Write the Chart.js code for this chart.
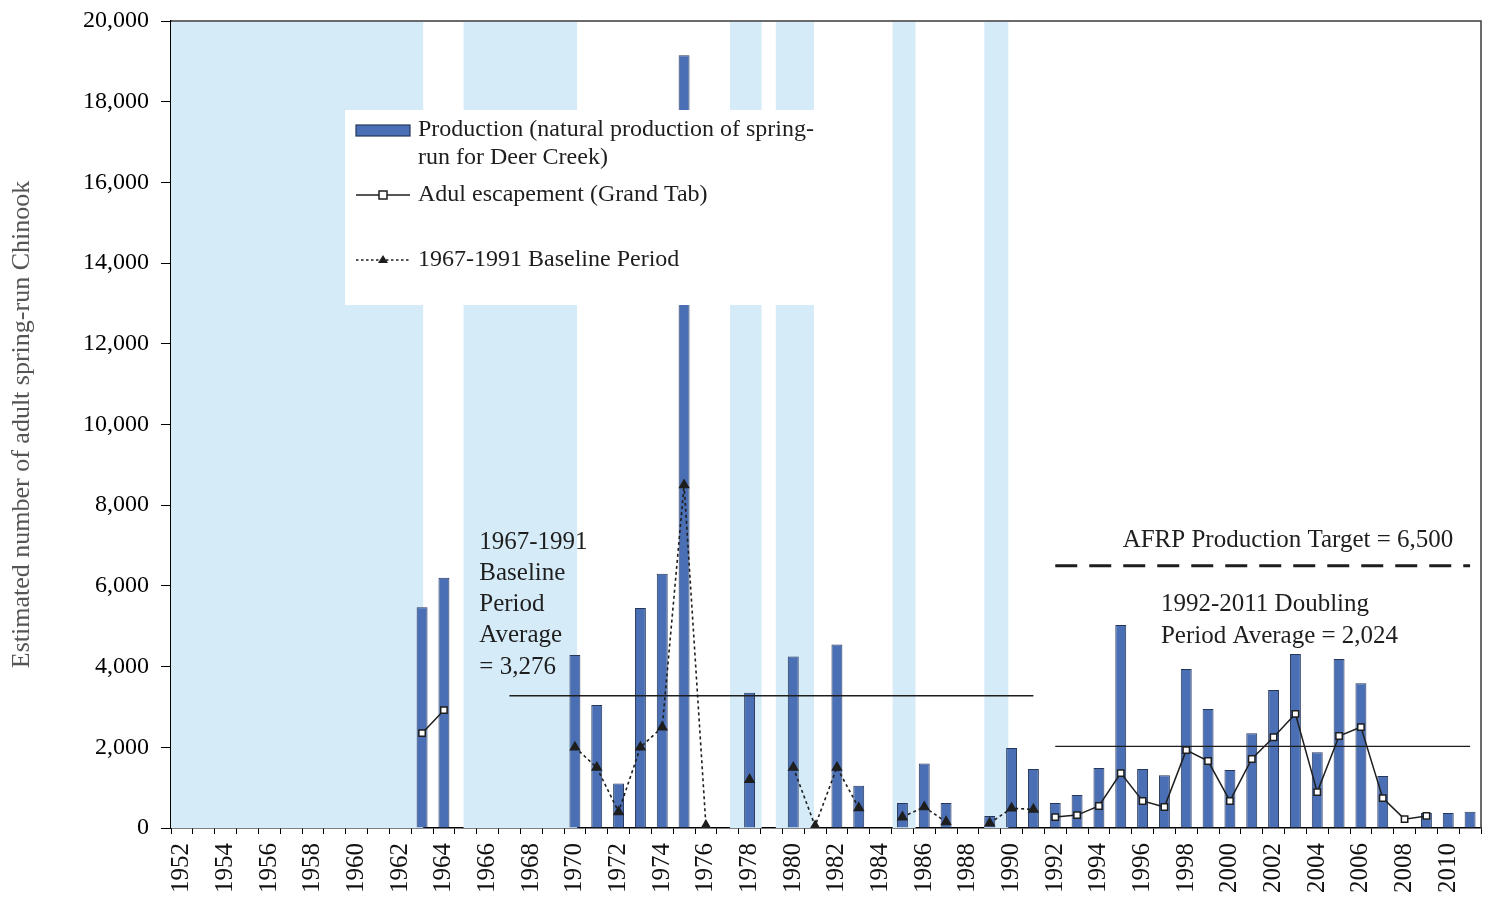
<!DOCTYPE html>
<html>
<head>
<meta charset="utf-8">
<script src="https://cdn.jsdelivr.net/npm/chart.js@4/dist/chart.umd.min.js"></script>
<style>
  html, body { margin: 0; padding: 0; background: #fff; }
  #wrap { width: 1494px; height: 898px; }
</style>
</head>
<body>
<div id="wrap"><canvas id="c" width="1494" height="898"></canvas></div>
<script>
// Return years of Deer Creek spring-run Chinook
const years = [
  '1952','1953','1954','1955','1956','1957','1958','1959','1960','1961',
  '1962','1963','1964','1965','1966','1967','1968','1969','1970','1971',
  '1972','1973','1974','1975','1976','1977','1978','1979','1980','1981',
  '1982','1983','1984','1985','1986','1987','1988','1989','1990','1991',
  '1992','1993','1994','1995','1996','1997','1998','1999','2000','2001',
  '2002','2003','2004','2005','2006','2007','2008','2009','2010','2011'
];

// Natural production of spring-run for Deer Creek
const production = [
  null, null, null, null, null, null, null, null, null, null,   // 1952-1961
  null, 5470, 6200, null, null, null, null, null, 4290, 3050,   // 1962-1971
  1100, 5450, 6300, 19150, null, null, 3350, null, 4250, null,  // 1972-1981
  4550, 1050, null, 620, 1600, 620, null, 300, 1980, 1460,      // 1982-1991
  620, 820, 1490, 5030, 1460, 1310, 3940, 2950, 1440, 2350,     // 1992-2001
  3420, 4310, 1880, 4190, 3590, 1290, null, 370, 370, 400       // 2002-2011
];

// Adult escapement (GrandTab)
const escapement = [
  null, null, null, null, null, null, null, null, null, null,   // 1952-1961
  null, 2350, 2920, null, null, null, null, null, null, null,   // 1962-1971
  null, null, null, null, null, null, null, null, null, null,   // 1972-1981
  null, null, null, null, null, null, null, null, null, null,   // 1982-1991
  270, 320, 545, 1360, 670, 520, 1930, 1660, 670, 1710,         // 1992-2001
  2250, 2830, 890, 2280, 2500, 740, 220, 300, null, null        // 2002-2011
];

// 1967-1991 baseline period
const baseline = [
  null, null, null, null, null, null, null, null, null, null,   // 1952-1961
  null, null, null, null, null, null, null, null, 2000, 1500,   // 1962-1971
  400, 2000, 2500, 8500, 60, null, 1200, null, 1500, 50,        // 1972-1981
  1500, 500, null, 270, 520, 150, null, 120, 490, 460,          // 1982-1991
  null, null, null, null, null, null, null, null, null, null,   // 1992-2001
  null, null, null, null, null, null, null, null, null, null    // 2002-2011
];

// Period averages and target
const baselinePeriod = [1967, 1991];
const baselineAverage = 3276;
const doublingPeriod = [1992, 2011];
const doublingAverage = 2024;
const productionTarget = 6500;

// Shaded year spans
const shadedSpans = [
  [1951.5, 1963.05], [1964.9, 1970.1], [1977.1, 1978.55],
  [1979.2, 1980.95], [1984.55, 1985.6], [1988.75, 1989.85]
];

// y-axis range
const yMin = 0, yMax = 20000, yStep = 2000;

const serif = '"Liberation Serif", "Times New Roman", serif';
const barFill = '#4a6fb4';
const barEdge = '#26375a';
const ink = '#1e1e1e';
const shade = '#d6ebf8';

function constantOver(period, value) {
  return years.map(y => (+y >= period[0] && +y <= period[1]) ? value : null);
}
const firstYear = +years[0];

// shaded spans behind the bars
const shadingPlugin = {
  id: 'shading',
  beforeDatasetsDraw(chart) {
    const { ctx, chartArea: a, scales: { x } } = chart;
    ctx.save();
    ctx.fillStyle = shade;
    shadedSpans.forEach(([s, e]) => {
      const x0 = Math.max(a.left, x.getPixelForValue(s - firstYear));
      const x1 = Math.min(a.right, x.getPixelForValue(e - firstYear));
      ctx.fillRect(x0, a.top + 1, x1 - x0, a.bottom - a.top - 1);
    });
    ctx.restore();
  }
};

// frame, text notes and key on top
const overlayPlugin = {
  id: 'overlay',
  afterDatasetsDraw(chart) {
    const { ctx, chartArea: a, scales: { x, y } } = chart;
    const px = yr => x.getPixelForValue(yr - firstYear);
    ctx.save();

    // top and right frame
    ctx.strokeStyle = '#3a3a3a';
    ctx.lineWidth = 1.5;
    ctx.beginPath();
    ctx.moveTo(a.left, a.top);
    ctx.lineTo(a.right, a.top);
    ctx.lineTo(a.right, a.bottom);
    ctx.stroke();

    // notes
    ctx.fillStyle = ink;
    ctx.font = '25px ' + serif;
    ctx.textBaseline = 'middle';
    ctx.textAlign = 'left';
    const bx = px(1965.62), by = y.getPixelForValue(7088);
    ['1967-1991', 'Baseline', 'Period', 'Average', '= 3,276'].forEach((t, i) => {
      ctx.fillText(t, bx, by + i * 31.3);
    });
    ctx.textAlign = 'right';
    ctx.fillText('AFRP Production Target = 6,500', px(2010.23), y.getPixelForValue(7138));
    ctx.textAlign = 'left';
    const dx = px(1996.84), dy = y.getPixelForValue(5551);
    ctx.fillText('1992-2011 Doubling', dx, dy);
    ctx.fillText('Period Average = 2,024', dx, dy + 32);

    // key
    const kx = a.left + 174, ky = a.top + 89;
    ctx.fillStyle = '#ffffff';
    ctx.fillRect(kx, ky, 477, 195);
    const sx0 = kx + 11, sx1 = kx + 65, tx = kx + 73;

    ctx.fillStyle = barFill;
    ctx.strokeStyle = barEdge;
    ctx.lineWidth = 1.2;
    ctx.fillRect(sx0, ky + 15, sx1 - sx0, 11);
    ctx.strokeRect(sx0, ky + 15, sx1 - sx0, 11);

    ctx.strokeStyle = ink;
    ctx.lineWidth = 1.5;
    ctx.beginPath(); ctx.moveTo(sx0, ky + 85); ctx.lineTo(sx1, ky + 85); ctx.stroke();
    ctx.fillStyle = '#fff';
    ctx.fillRect((sx0 + sx1) / 2 - 4, ky + 81, 8, 8);
    ctx.strokeRect((sx0 + sx1) / 2 - 4, ky + 81, 8, 8);

    ctx.setLineDash([2.5, 2.5]);
    ctx.lineWidth = 1.3;
    ctx.beginPath(); ctx.moveTo(sx0, ky + 150); ctx.lineTo(sx1, ky + 150); ctx.stroke();
    ctx.setLineDash([]);
    ctx.fillStyle = ink;
    const cx = (sx0 + sx1) / 2;
    ctx.beginPath();
    ctx.moveTo(cx, ky + 145); ctx.lineTo(cx + 5, ky + 153); ctx.lineTo(cx - 5, ky + 153);
    ctx.closePath(); ctx.fill();

    ctx.fillStyle = ink;
    ctx.font = '24px ' + serif;
    ctx.textAlign = 'left';
    ctx.fillText('Production (natural production of spring-', tx, ky + 20);
    ctx.fillText('run for Deer Creek)', tx, ky + 48);
    ctx.fillText('Adul escapement (Grand Tab)', tx, ky + 85);
    ctx.fillText('1967-1991 Baseline Period', tx, ky + 150);

    ctx.restore();
  }
};

new Chart(document.getElementById('c'), {
  data: {
    labels: years,
    datasets: [
      {
        type: 'line',
        label: 'Adul escapement (Grand Tab)',
        data: escapement,
        borderColor: ink,
        borderWidth: 1.5,
        pointStyle: 'rect',
        pointRadius: 4.5,
        pointBackgroundColor: '#ffffff',
        pointBorderColor: ink,
        pointBorderWidth: 1.5,
        spanGaps: false,
        order: 1
      },
      {
        type: 'line',
        label: '1967-1991 Baseline Period',
        data: baseline,
        borderColor: ink,
        borderWidth: 1.6,
        borderDash: [3, 3],
        pointStyle: 'triangle',
        pointRadius: 5,
        pointBackgroundColor: ink,
        pointBorderColor: ink,
        spanGaps: false,
        order: 2
      },
      {
        type: 'line',
        label: 'Baseline average',
        data: constantOver(baselinePeriod, baselineAverage),
        borderColor: ink,
        borderWidth: 1.4,
        pointRadius: 0,
        order: 3
      },
      {
        type: 'line',
        label: 'Doubling average',
        data: constantOver(doublingPeriod, doublingAverage),
        borderColor: ink,
        borderWidth: 1.4,
        pointRadius: 0,
        order: 3
      },
      {
        type: 'line',
        label: 'AFRP Production Target',
        data: constantOver(doublingPeriod, productionTarget),
        borderColor: ink,
        borderWidth: 3,
        borderDash: [22, 12],
        pointRadius: 0,
        order: 3
      },
      {
        type: 'bar',
        label: 'Production (natural production of spring-run for Deer Creek)',
        data: production,
        backgroundColor: barFill,
        borderColor: barEdge,
        borderWidth: 1,
        barPercentage: 0.5,
        categoryPercentage: 1,
        order: 10
      }
    ]
  },
  options: {
    responsive: false,
    animation: false,
    events: [],
    layout: { padding: { top: 21, right: 13, left: 0, bottom: 0 } },
    plugins: { legend: { display: false }, tooltip: { enabled: false } },
    scales: {
      x: {
        type: 'category',
        offset: true,
        grid: { display: true, drawOnChartArea: false, drawTicks: true, tickLength: 6, color: '#000', offset: true },
        border: { display: true, color: '#000', width: 1.5 },
        ticks: {
          autoSkip: false,
          maxRotation: 90,
          minRotation: 90,
          padding: 9,
          color: '#111',
          font: { family: serif, size: 25 },
          callback(v, i) { return (+years[i]) % 2 === 0 ? years[i] : ''; }
        },
        afterFit(s) { s.height = 70; s.paddingLeft = 0; s.paddingRight = 0; }
      },
      y: {
        min: yMin,
        max: yMax,
        grid: { display: true, drawOnChartArea: false, drawTicks: true, tickLength: 10, color: '#000' },
        border: { display: true, color: '#000', width: 1.5 },
        ticks: {
          stepSize: yStep,
          padding: 12,
          color: '#000',
          font: { family: serif, size: 24 },
          callback(v) { return v.toLocaleString('en-US'); }
        },
        title: {
          display: true,
          text: 'Estimated number of adult spring-run Chinook',
          color: '#555',
          font: { family: serif, size: 26 },
          padding: { top: 7, bottom: 0 }
        },
        afterFit(s) { s.width = 171; s.paddingTop = 0; s.paddingBottom = 0; }
      }
    }
  },
  plugins: [shadingPlugin, overlayPlugin]
});
</script>
</body>
</html>
